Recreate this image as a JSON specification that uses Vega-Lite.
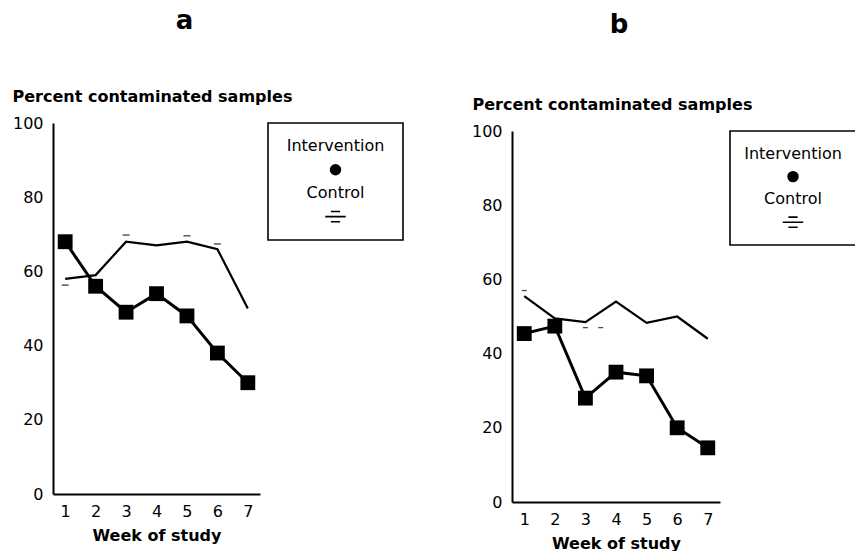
{
  "$schema": "https://vega.github.io/schema/vega-lite/v6.json",
  "background": "white",
  "padding": {"left": 12, "top": 8, "right": 0, "bottom": 0},
  "config": {
    "font": "DejaVu Sans",
    "view": {"stroke": null},
    "axis": {
      "grid": false,
      "ticks": false,
      "domainColor": "black",
      "domainWidth": 2,
      "labelFont": "DejaVu Sans",
      "labelFontSize": 16,
      "labelColor": "black",
      "titleFont": "DejaVu Sans",
      "titleFontSize": 16,
      "titleFontWeight": "bold",
      "titleColor": "black"
    },
    "axisX": {"labelPadding": 9, "titlePadding": 8},
    "axisY": {"labelPadding": 10},
    "title": {"font": "DejaVu Sans", "fontSize": 26, "fontWeight": "bold", "color": "black"}
  },
  "datasets": {
    "a": [
      {"series": "Intervention", "week": 1, "value": 68},
      {"series": "Intervention", "week": 2, "value": 56},
      {"series": "Intervention", "week": 3, "value": 49},
      {"series": "Intervention", "week": 4, "value": 54},
      {"series": "Intervention", "week": 5, "value": 48},
      {"series": "Intervention", "week": 6, "value": 38},
      {"series": "Intervention", "week": 7, "value": 30},
      {"series": "Control", "week": 1, "value": 58},
      {"series": "Control", "week": 2, "value": 59},
      {"series": "Control", "week": 3, "value": 68},
      {"series": "Control", "week": 4, "value": 67},
      {"series": "Control", "week": 5, "value": 68},
      {"series": "Control", "week": 6, "value": 66},
      {"series": "Control", "week": 7, "value": 50}
    ],
    "aMarks": [
      {"week": 1, "value": 56.3},
      {"week": 3, "value": 69.8},
      {"week": 5, "value": 69.6},
      {"week": 6, "value": 67.4}
    ],
    "b": [
      {"series": "Intervention", "week": 1, "value": 45.4},
      {"series": "Intervention", "week": 2, "value": 47.4},
      {"series": "Intervention", "week": 3, "value": 28},
      {"series": "Intervention", "week": 4, "value": 35},
      {"series": "Intervention", "week": 5, "value": 34},
      {"series": "Intervention", "week": 6, "value": 20},
      {"series": "Intervention", "week": 7, "value": 14.6},
      {"series": "Control", "week": 1, "value": 55.5},
      {"series": "Control", "week": 2, "value": 49.5},
      {"series": "Control", "week": 3, "value": 48.5},
      {"series": "Control", "week": 4, "value": 54},
      {"series": "Control", "week": 5, "value": 48.3},
      {"series": "Control", "week": 6, "value": 50},
      {"series": "Control", "week": 7, "value": 44}
    ],
    "bMarks": [
      {"week": 1, "value": 57},
      {"week": 3, "value": 47},
      {"week": 3.5, "value": 47}
    ],
    "legend": [
      {"pos": 1, "kind": "label", "label": "Intervention"},
      {"pos": 2, "kind": "Intervention", "label": ""},
      {"pos": 3, "kind": "label", "label": "Control"},
      {"pos": 4, "kind": "Control", "label": ""}
    ]
  },
  "bounds": "full",
  "spacing": 67,
  "hconcat": [
    {
      "bounds": "flush",
      "spacing": 8,
      "hconcat": [
        {
          "width": 207,
          "height": 371,
          "title": {"text": "a", "offset": 54, "dx": 28},
          "data": {"name": "a"},
          "encoding": {
            "x": {"field": "week", "type": "quantitative", "scale": {"domain": [0.6, 7.4]},
              "axis": {"values": [1, 2, 3, 4, 5, 6, 7], "title": "Week of study"}},
            "y": {"field": "value", "type": "quantitative", "scale": {"domain": [0, 100]},
              "axis": {"values": [0, 20, 40, 60, 80, 100], "title": "Percent contaminated samples",
                "titleAngle": 0, "titleAlign": "left", "titleBaseline": "alphabetic", "titleX": -41, "titleY": -22}}
          },
          "layer": [
            {"transform": [{"filter": "datum.series === 'Control'"}],
             "mark": {"type": "line", "color": "black", "strokeWidth": 2.2}},
            {"transform": [{"filter": "datum.series === 'Intervention'"}],
             "mark": {"type": "line", "color": "black", "strokeWidth": 3}},
            {"transform": [{"filter": "datum.series === 'Intervention'"}],
             "mark": {"type": "square", "filled": true, "color": "black", "opacity": 1, "size": 220}},
            {"data": {"name": "aMarks"},
             "mark": {"type": "tick", "orient": "horizontal", "color": "black", "size": 7, "thickness": 1.4}}
          ]
        },
        {
          "width": 135,
          "height": 117,
          "view": {"stroke": "black", "strokeWidth": 1.6},
          "data": {"name": "legend"},
          "encoding": {
            "y": {"field": "pos", "type": "quantitative", "scale": {"domain": [0, 5], "reverse": true}, "axis": null}
          },
          "layer": [
            {"transform": [{"filter": "datum.kind === 'label'"}],
             "mark": {"type": "text", "font": "DejaVu Sans", "fontSize": 16, "color": "black"},
             "encoding": {"text": {"field": "label"}}},
            {"transform": [{"filter": "datum.kind === 'Intervention'"}],
             "mark": {"type": "point", "shape": "circle", "filled": true, "color": "black", "opacity": 1, "size": 130}},
            {"transform": [{"filter": "datum.kind === 'Control'"}],
             "mark": {"type": "point", "shape": "M-0.45,-0.5H0.45M-1,0H1M-0.45,0.5H0.45", "filled": false, "color": "black", "opacity": 1, "strokeWidth": 1.6, "size": 420}}
          ]
        }
      ]
    },
    {
      "bounds": "flush",
      "spacing": 7,
      "vconcat": [
        {
          "width": 1,
          "height": 1,
          "data": {"values": []},
          "mark": {"type": "point", "opacity": 0},
          "encoding": {}
        },
        {
          "bounds": "flush",
          "spacing": 10,
          "hconcat": [
            {
              "width": 208,
              "height": 371,
              "title": {"text": "b", "offset": 58, "dx": 3},
              "data": {"name": "b"},
              "encoding": {
                "x": {"field": "week", "type": "quantitative", "scale": {"domain": [0.6, 7.4]},
                  "axis": {"values": [1, 2, 3, 4, 5, 6, 7], "title": "Week of study"}},
                "y": {"field": "value", "type": "quantitative", "scale": {"domain": [0, 100]},
                  "axis": {"values": [0, 20, 40, 60, 80, 100], "title": "Percent contaminated samples",
                    "titleAngle": 0, "titleAlign": "left", "titleBaseline": "alphabetic", "titleX": -40, "titleY": -22}}
              },
              "layer": [
                {"transform": [{"filter": "datum.series === 'Control'"}],
                 "mark": {"type": "line", "color": "black", "strokeWidth": 2.2}},
                {"transform": [{"filter": "datum.series === 'Intervention'"}],
                 "mark": {"type": "line", "color": "black", "strokeWidth": 3}},
                {"transform": [{"filter": "datum.series === 'Intervention'"}],
                 "mark": {"type": "square", "filled": true, "color": "black", "opacity": 1, "size": 220}},
                {"data": {"name": "bMarks"},
                 "mark": {"type": "tick", "orient": "horizontal", "color": "black", "size": 5, "thickness": 1.3}}
              ]
            },
            {
              "width": 126,
              "height": 114,
              "view": {"stroke": "black", "strokeWidth": 1.6},
              "data": {"name": "legend"},
              "encoding": {
                "y": {"field": "pos", "type": "quantitative", "scale": {"domain": [0, 5], "reverse": true}, "axis": null}
              },
              "layer": [
                {"transform": [{"filter": "datum.kind === 'label'"}],
                 "mark": {"type": "text", "font": "DejaVu Sans", "fontSize": 16, "color": "black"},
                 "encoding": {"text": {"field": "label"}}},
                {"transform": [{"filter": "datum.kind === 'Intervention'"}],
                 "mark": {"type": "point", "shape": "circle", "filled": true, "color": "black", "opacity": 1, "size": 130}},
                {"transform": [{"filter": "datum.kind === 'Control'"}],
                 "mark": {"type": "point", "shape": "M-0.45,-0.5H0.45M-1,0H1M-0.45,0.5H0.45", "filled": false, "color": "black", "opacity": 1, "strokeWidth": 1.6, "size": 420}}
              ]
            }
          ]
        }
      ]
    }
  ]
}
